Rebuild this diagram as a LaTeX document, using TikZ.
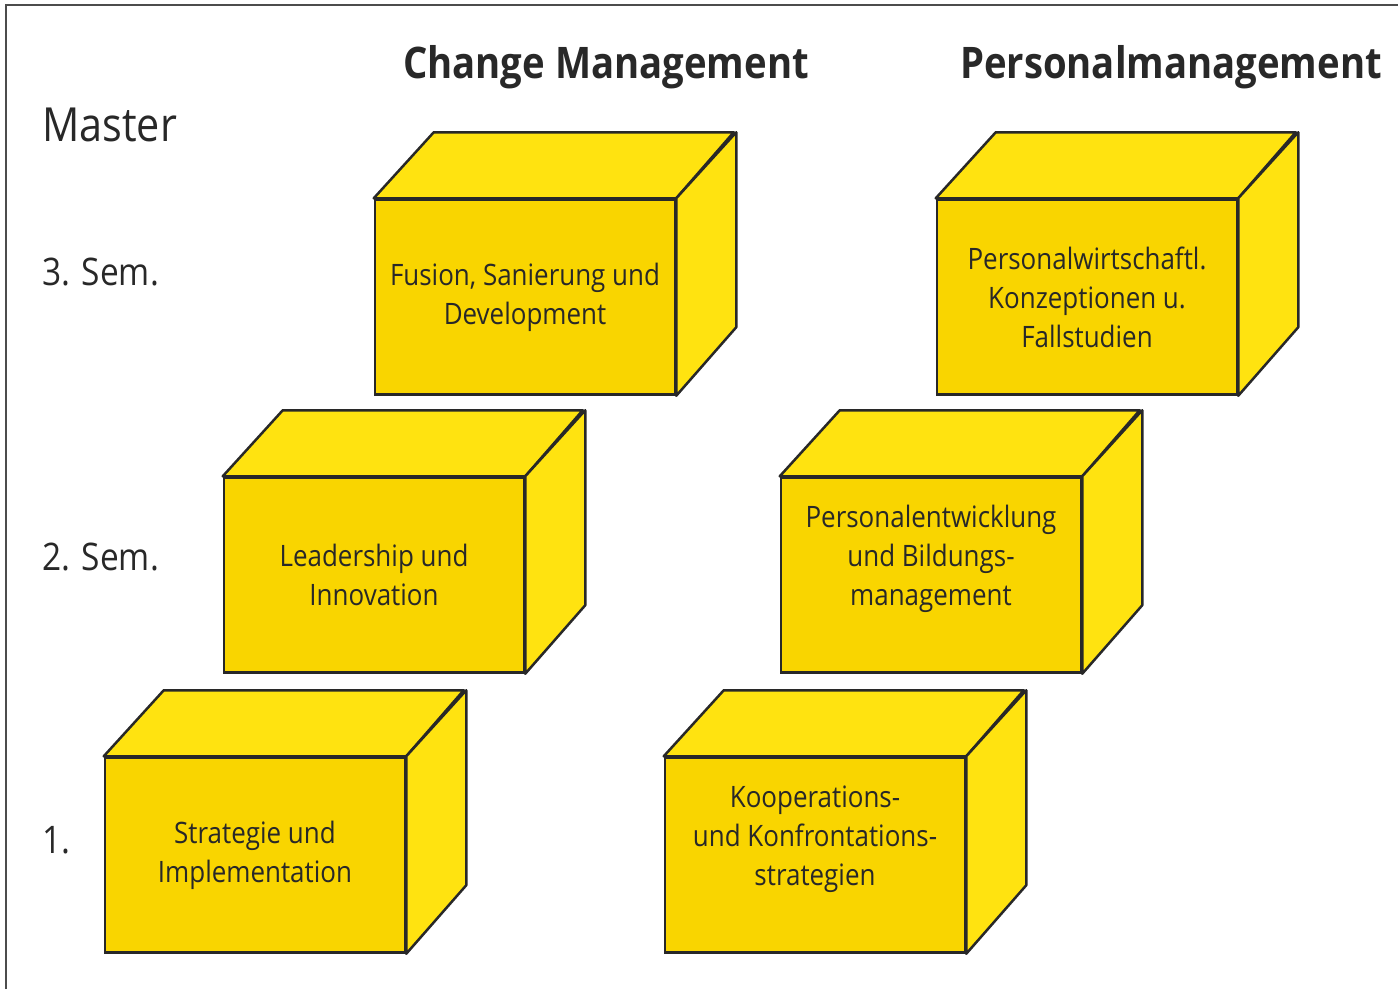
\documentclass[tikz,border=0pt]{standalone}
\usepackage{fontspec}
\setmainfont[FakeStretch=0.88]{Open Sans}

\definecolor{frontyellow}{RGB}{249,213,0}
\definecolor{sideyellow}{RGB}{255,227,16}
\definecolor{edgegray}{RGB}{40,40,40}
\definecolor{textgray}{RGB}{40,40,40}

\begin{document}
\begin{tikzpicture}[x=1pt,y=-1pt,
  front/.style={draw=edgegray,line width=2.5pt,fill=frontyellow,
    minimum width=300pt,minimum height=195pt,inner sep=0pt,
    align=center,text=textgray,font=\fontsize{29.5}{39}\selectfont},
  side/.style={draw=edgegray,line width=2.5pt,fill=sideyellow,line join=round},
  head/.style={text=textgray,inner sep=0pt,font=\fontsize{43.5}{45}\selectfont\bfseries},
  sem/.style={anchor=west,text=textgray,inner sep=0pt,font=\fontsize{38}{40}\selectfont}]
  \useasboundingbox (0,0) rectangle (1398,989);
  % frame
  \draw[line width=2pt,draw=black!70] (6,989) -- (6,5) -- (1398,5);

  % column heads and semesters
  \node[head] (chm) at (606,67) {Change Management};
  \node[head] (pm) at (1171,67) {Personalmanagement};
  \node[sem,font=\fontsize{47}{49}\selectfont] (master) at (42,125) {Master};
  \node[sem] (sem3) at (42,272) {3. Sem.};
  \node[sem] (sem2) at (42,557) {2. Sem.};
  \node[sem] (sem1) at (42,840) {1.};

  % front faces
  \node[front] (fusion) at (525,297) {Fusion, Sanierung und\\Development};
  \node[front] (pwk) at (1087,297) {Personalwirtschaftl.\\Konzeptionen u.\\Fallstudien};
  \node[front] (leader) at (374,575) {Leadership und\\Innovation};
  \node[front] (pe) at (931,575) {Personalentwicklung\\und Bildungs-\\management\\\mbox{}};
  \node[front] (strat) at (255,855) {Strategie und\\Implementation};
  \node[front] (koop) at (815,855) {Kooperations-\\und Konfrontations-\\strategien\\\mbox{}};

  % top and right faces
  \foreach \c in {fusion,pwk,leader,pe,strat,koop}{
    \draw[side] (\c.north west) -- ++(60,-66) -- ++(300,0) -- (\c.north east) -- cycle;
    \draw[side] (\c.north east) -- ++(60,-66) -- ++(0,195) -- (\c.south east) -- cycle;
  }
\end{tikzpicture}
\end{document}
